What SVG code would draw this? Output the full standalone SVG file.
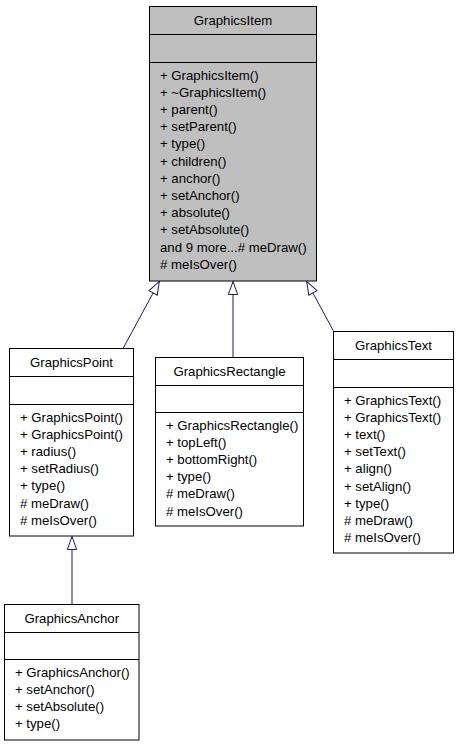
<svg xmlns="http://www.w3.org/2000/svg" width="459" height="747" viewBox="0 0 459 747">
<style>
.box{fill:#ffffff;stroke:#000000;stroke-width:1}
.base{fill:#bfbfbf}
.sep{stroke:#000000;stroke-width:1}
text{font-family:"Liberation Sans",Arial,Helvetica,sans-serif;font-size:13.2px;fill:#000000}
.hd{text-anchor:middle}
.edge{fill:none;stroke:#191970;stroke-width:1}
</style>
<defs>
<marker id="inh" markerUnits="userSpaceOnUse" markerWidth="16" markerHeight="12" viewBox="-1 -6 16 12" refX="13" refY="0" orient="auto">
<path d="M0,-4.7 L13,0 L0,4.7 Z" fill="#ffffff" stroke="#191970" stroke-width="1"/>
</marker>
</defs>
<rect x="0" y="0" width="459" height="747" fill="#ffffff"/>
<g id="connectors">
<path class="edge" d="M123.3,348 L159.3,281.5" marker-end="url(#inh)"/>
<path class="edge" d="M233,357 L233,281.5" marker-end="url(#inh)"/>
<path class="edge" d="M333.3,330.7 L306.7,281.5" marker-end="url(#inh)"/>
<path class="edge" d="M72,604 L72,536.5" marker-end="url(#inh)"/>
</g>
<g id="GraphicsItem">
<rect class="box base" x="149.5" y="6.5" width="167" height="274.5"/>
<line class="sep" x1="149.5" y1="34.5" x2="316.5" y2="34.5"/>
<line class="sep" x1="149.5" y1="62.5" x2="316.5" y2="62.5"/>
<text class="hd" x="233" y="24.5">GraphicsItem</text>
<text x="160" y="79.5">+ GraphicsItem()</text>
<text x="160" y="96.7">+ ~GraphicsItem()</text>
<text x="160" y="113.9">+ parent()</text>
<text x="160" y="131.1">+ setParent()</text>
<text x="160" y="148.3">+ type()</text>
<text x="160" y="165.5">+ children()</text>
<text x="160" y="182.7">+ anchor()</text>
<text x="160" y="199.9">+ setAnchor()</text>
<text x="160" y="217.1">+ absolute()</text>
<text x="160" y="234.3">+ setAbsolute()</text>
<text x="160" y="251.5">and 9 more...# meDraw()</text>
<text x="160" y="268.7"># meIsOver()</text>
</g>
<g id="GraphicsPoint">
<rect class="box" x="9.5" y="348.5" width="124" height="187.5"/>
<line class="sep" x1="9.5" y1="376.5" x2="133.5" y2="376.5"/>
<line class="sep" x1="9.5" y1="404.5" x2="133.5" y2="404.5"/>
<text class="hd" x="71.5" y="367">GraphicsPoint</text>
<text x="20" y="421.5">+ GraphicsPoint()</text>
<text x="20" y="438.7">+ GraphicsPoint()</text>
<text x="20" y="455.9">+ radius()</text>
<text x="20" y="473.1">+ setRadius()</text>
<text x="20" y="490.3">+ type()</text>
<text x="20" y="507.5"># meDraw()</text>
<text x="20" y="524.7"># meIsOver()</text>
</g>
<g id="GraphicsRectangle">
<rect class="box" x="155.5" y="357.5" width="148" height="168.5"/>
<line class="sep" x1="155.5" y1="385.5" x2="303.5" y2="385.5"/>
<line class="sep" x1="155.5" y1="412.5" x2="303.5" y2="412.5"/>
<text class="hd" x="229.5" y="376">GraphicsRectangle</text>
<text x="166" y="429.5">+ GraphicsRectangle()</text>
<text x="166" y="446.7">+ topLeft()</text>
<text x="166" y="463.9">+ bottomRight()</text>
<text x="166" y="481.1">+ type()</text>
<text x="166" y="498.3"># meDraw()</text>
<text x="166" y="515.5"># meIsOver()</text>
</g>
<g id="GraphicsText">
<rect class="box" x="333.5" y="331.5" width="120" height="221.5"/>
<line class="sep" x1="333.5" y1="359.5" x2="453.5" y2="359.5"/>
<line class="sep" x1="333.5" y1="387.5" x2="453.5" y2="387.5"/>
<text class="hd" x="393.5" y="350">GraphicsText</text>
<text x="344" y="404.5">+ GraphicsText()</text>
<text x="344" y="421.7">+ GraphicsText()</text>
<text x="344" y="438.9">+ text()</text>
<text x="344" y="456.1">+ setText()</text>
<text x="344" y="473.3">+ align()</text>
<text x="344" y="490.5">+ setAlign()</text>
<text x="344" y="507.7">+ type()</text>
<text x="344" y="524.9"># meDraw()</text>
<text x="344" y="542.1"># meIsOver()</text>
</g>
<g id="GraphicsAnchor">
<rect class="box" x="4.5" y="604.5" width="134.5" height="135.5"/>
<line class="sep" x1="4.5" y1="632.5" x2="139" y2="632.5"/>
<line class="sep" x1="4.5" y1="659.5" x2="139" y2="659.5"/>
<text class="hd" x="71.75" y="623">GraphicsAnchor</text>
<text x="15" y="676.5">+ GraphicsAnchor()</text>
<text x="15" y="693.7">+ setAnchor()</text>
<text x="15" y="710.9">+ setAbsolute()</text>
<text x="15" y="728.1">+ type()</text>
</g>
</svg>
